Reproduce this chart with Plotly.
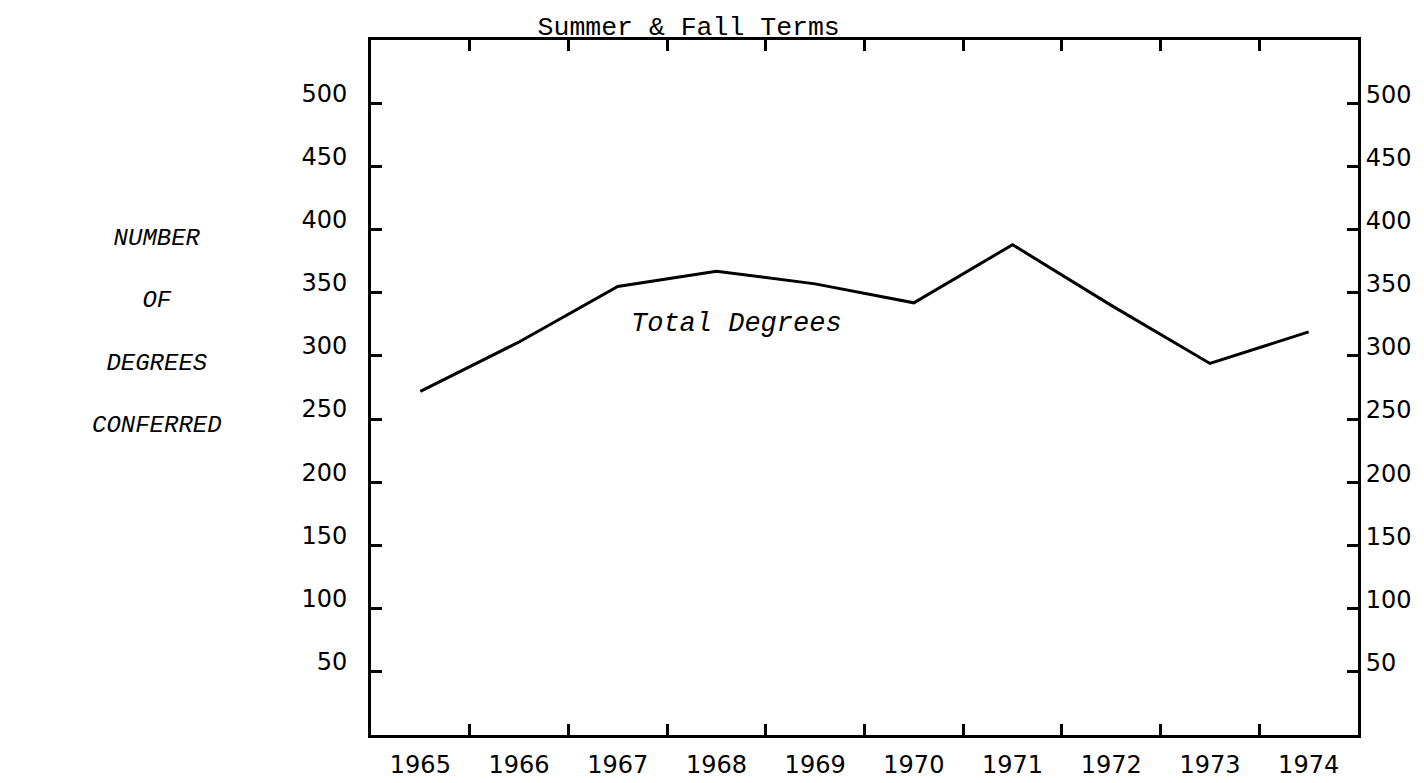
import plotly.graph_objects as go

years = ["1965", "1966", "1967", "1968", "1969", "1970", "1971", "1972", "1973", "1974"]
total_degrees = [272, 311, 355, 367, 357, 342, 388, 340, 294, 319]
y_ticks = [50, 100, 150, 200, 250, 300, 350, 400, 450, 500]

TICK_FONT = dict(family="DejaVu Sans", size=24, color="black")
TYPE_FONT = dict(family="Liberation Mono", size=24, color="black")

fig = go.Figure()
fig.add_trace(go.Scatter(
    x=years, y=total_degrees, mode="lines",
    line=dict(color="black", width=3),
    showlegend=False, hoverinfo="skip",
))
# invisible copy so the right-hand axis gets drawn
fig.add_trace(go.Scatter(
    x=years, y=total_degrees, mode="lines", yaxis="y2",
    line=dict(width=0), showlegend=False, hoverinfo="skip",
))

axis_common = dict(
    showline=True, linecolor="black", linewidth=3,
    ticks="inside", tickcolor="black", tickwidth=2.5,
    showgrid=False, zeroline=False,
)

fig.update_layout(
    width=1424, height=783,
    margin=dict(l=363, r=74, t=32, b=36),
    paper_bgcolor="white", plot_bgcolor="white",
    title=dict(
        text="Summer & Fall Terms", font=dict(family="Liberation Mono", size=26.5, color="black"),
        xref="container", yref="container", x=0.478, y=0.978,
        xanchor="center", yanchor="middle",
    ),
    xaxis=dict(
        **axis_common, type="category", tickson="boundaries",
        ticklen=11, mirror="ticks", range=[-0.5, 9.5],
        tickfont=TICK_FONT, ticklabelstandoff=6,
    ),
    yaxis=dict(
        **axis_common, range=[0, 550], tickvals=y_ticks, ticklen=11,
        mirror=True, tickfont=TICK_FONT,
        ticklabelshift=-10, ticklabelstandoff=16,
    ),
    yaxis2=dict(
        **axis_common, range=[0, 550], tickvals=y_ticks, ticklen=11,
        overlaying="y", side="right", tickfont=TICK_FONT,
        ticklabelshift=-9, ticklabelstandoff=0,
    ),
)

fig.add_annotation(
    x=3.2, y=325, xref="x", yref="y",
    text="<i>Total Degrees</i>", showarrow=False,
    font=dict(family="Liberation Mono", size=27, color="black"),
)
fig.add_annotation(
    x=-0.285, y=0.58, xref="paper", yref="paper",
    text="<i>NUMBER<br><br>OF<br><br>DEGREES<br><br>CONFERRED</i>",
    showarrow=False, align="center", font=TYPE_FONT,
)

fig.write_html("out.html")
